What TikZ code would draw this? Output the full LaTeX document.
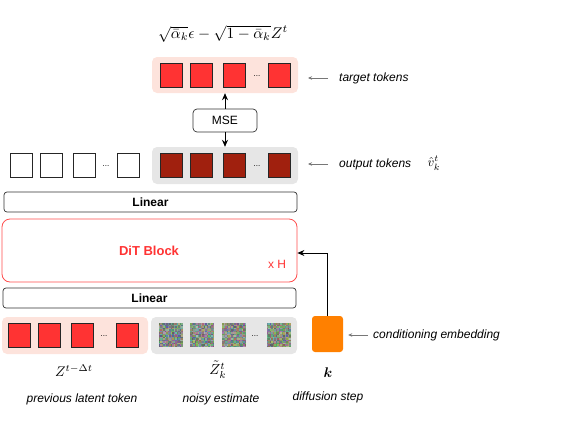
\documentclass[tikz,border=0pt]{standalone}
\usepackage{fontspec}
\usepackage{amsmath,bm,graphicx}
\setsansfont{Liberation Sans}
\usetikzlibrary{arrows.meta,calc}
\definecolor{tokred}{HTML}{FF3333}
\definecolor{tokdark}{HTML}{A0200E}
\definecolor{pinkbg}{HTML}{FDE3DC}
\definecolor{graybg}{HTML}{E6E6E6}
\definecolor{orangec}{HTML}{FF8000}
\definecolor{ditred}{HTML}{FF4D4D}
\definecolor{labgray}{HTML}{777777}
\tikzset{
  tokbox/.style={draw=black!85, line width=0.8pt, minimum width=22pt, minimum height=24pt, inner sep=0pt},
  redtok/.style={tokbox, fill=tokred},
  darktok/.style={tokbox, fill=tokdark},
  whitetok/.style={tokbox, fill=white},
  bgbox/.style={rounded corners=5pt, inner sep=0pt, draw=none},
  layerbox/.style={draw=black!80, line width=0.7pt, rounded corners=3pt, inner sep=0pt, font=\sffamily\bfseries\fontsize{12}{14}\selectfont},
  dotsn/.style={inner sep=0pt, font=\sffamily\fontsize{8}{9}\selectfont},
  labtext/.style={anchor=west, inner sep=0pt, font=\sffamily\itshape\fontsize{12}{14}\selectfont},
  labarrow/.style={draw=labgray, line width=0.7pt, -{Stealth[length=4pt,width=3.5pt]}},
  mainarrow/.style={draw=black, line width=0.8pt, -{Stealth[length=7pt,width=6pt]}},
  undertext/.style={inner sep=0pt, font=\sffamily\itshape\fontsize{12}{14}\selectfont},
  mathlab/.style={inner sep=0pt},
}
\begin{document}
\begin{tikzpicture}[x=1pt,y=-1pt]
\useasboundingbox (0,0) rectangle (582,421);
% formula
\node[inner sep=0pt] (formula) at (223,34) {\scalebox{1.55}{$\sqrt{\bar{\alpha}_k}\epsilon-\sqrt{1-\bar{\alpha}_k}Z^t$}};
% target tokens
\node[bgbox, fill=pinkbg, minimum width=146pt, minimum height=36pt] (tbg) at (225,75) {};
\node[redtok] (t1) at (171,75) {};
\node[redtok] (t2) at (201,75) {};
\node[redtok] (t3) at (234,75) {};
\node[dotsn] (td) at (257,76) {...};
\node[redtok] (t4) at (279,75) {};
\coordinate (tarr) at (308,78);
\node[labtext] (tlab) at (339,78) {target tokens};
\draw[labarrow] ($(tlab.west)+(-11,0)$) -- (tarr);
% MSE
\node[draw=black!80, line width=0.7pt, rounded corners=4pt, minimum width=64pt, minimum height=23pt, inner sep=0pt, font=\sffamily\fontsize{12}{14}\selectfont] (mse) at (225,120.5) {MSE};
% output tokens
\node[bgbox, fill=graybg, minimum width=146pt, minimum height=37pt] (obg) at (225,165.5) {};
\node[darktok] (o1) at (171,165.5) {};
\node[darktok] (o2) at (201,165.5) {};
\node[darktok] (o3) at (234,165.5) {};
\node[dotsn] (od) at (257,166.5) {...};
\node[darktok] (o4) at (279,165.5) {};
\node[whitetok] (w1) at (21,165.5) {};
\node[whitetok] (w2) at (51,165.5) {};
\node[whitetok] (w3) at (84,165.5) {};
\node[dotsn] (wd) at (106,166.5) {...};
\node[whitetok] (w4) at (128,165.5) {};
\coordinate (oarr) at (308,164);
\node[labtext] (olab) at (339,164) {output tokens};
\node[mathlab] (vhat) at (434,163) {\scalebox{1.3}{$\hat{v}_k^t$}};
\draw[labarrow] ($(olab.west)+(-11,0)$) -- (oarr);
\draw[mainarrow] (mse.north) -- (tbg.south);
\draw[mainarrow] (mse.south) -- (obg.north);
% Linear top
\node[layerbox, minimum width=293pt, minimum height=20pt] (lin1) at (150.5,202) {Linear};
% DiT block
\node[draw=ditred, line width=0.8pt, rounded corners=8pt, minimum width=295pt, minimum height=63pt, inner sep=0pt] (dit) at (149.5,250.5) {};
\node[inner sep=0pt, text=tokred, font=\sffamily\bfseries\fontsize{13}{15}\selectfont] (dittext) at (149,251) {DiT Block};
\node[inner sep=0pt, text=tokred, font=\sffamily\fontsize{12}{14}\selectfont] (xh) at (277,264) {x H};
% Linear bottom
\node[layerbox, minimum width=293pt, minimum height=20pt] (lin2) at (149.5,298) {Linear};
% previous latent tokens
\node[bgbox, fill=pinkbg, minimum width=146pt, minimum height=37pt] (pbg) at (75,335.5) {};
\node[redtok] (p1) at (19,335) {};
\node[redtok] (p2) at (49,335) {};
\node[redtok] (p3) at (82,335) {};
\node[dotsn] (pd) at (104,336) {...};
\node[redtok] (p4) at (127,335) {};
% noisy estimate
\node[bgbox, fill=graybg, minimum width=146pt, minimum height=37pt] (nbg) at (224,335.5) {};
\pgfmathsetseed{42}
\foreach \cx/\nm in {170.5/n1, 202/n2, 234/n3, 278.5/n4}{
  \foreach \i in {0,...,15}{
    \foreach \j in {0,...,15}{
      \pgfmathsetmacro\rr{0.32+0.38*rnd}
      \pgfmathsetmacro\gg{0.36+0.38*rnd}
      \pgfmathsetmacro\bb{0.32+0.38*rnd}
      \definecolor{nz}{rgb}{\rr,\gg,\bb}
      \fill[nz] (\cx-12+1.5*\i, 323+1.5*\j) rectangle ++(1.5,1.5);
    }
  }
  \node[minimum width=24pt, minimum height=24pt, inner sep=0pt] (\nm) at (\cx,335) {};
}
\node[dotsn] (nd) at (255,336) {...};
% conditioning
\node[fill=orangec, rounded corners=3pt, minimum width=31pt, minimum height=36pt, inner sep=0pt] (cond) at (327.5,334) {};
\node[labtext] (clab) at (373,335) {conditioning embedding};
\draw[labarrow] ($(clab.west)+(-5,0)$) -- ($(cond.east)+(5,1)$);
\coordinate (ditin) at ($(dit.east)+(0,2.5)$);
\draw[mainarrow] (cond.north) |- (ditin);
% under labels
\node[mathlab] (zl) at (74,371) {\scalebox{1.4}{$Z^{t-\Delta t}$}};
\node[mathlab] (znl) at (218,370) {\scalebox{1.45}{$\tilde{Z}_k^t$}};
\node[mathlab] (kl) at (328,373) {\scalebox{1.4}{$\bm{k}$}};
\node[undertext] (pl) at (82,399) {previous latent token};
\node[undertext] (nl) at (221,399) {noisy estimate};
\node[undertext] (dl) at (328,397) {diffusion step};
\end{tikzpicture}
\end{document}
